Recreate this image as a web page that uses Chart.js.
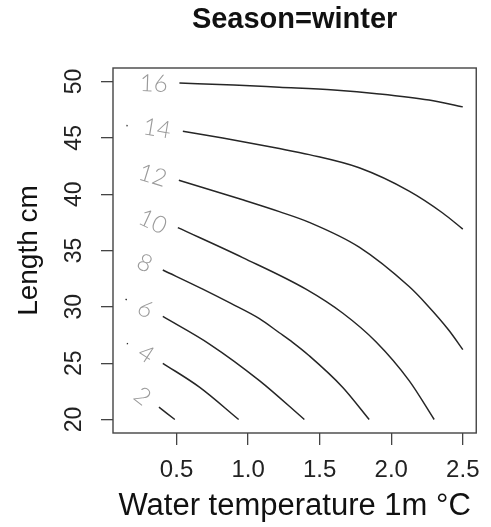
<!DOCTYPE html>
<html>
<head>
<meta charset="utf-8">
<script src="https://cdn.jsdelivr.net/npm/chart.js@4.4.1/dist/chart.umd.min.js"></script>
<style>
  html, body { margin: 0; padding: 0; background: #ffffff; }
  canvas { display: block; }
</style>
</head>
<body>
<canvas id="c" width="491" height="527"></canvas>
<script>
// Text
const chartTitle = 'Season=winter';
const xTitle = 'Water temperature 1m °C';
const yTitle = 'Length cm';

// Axis ticks
const xTicks = [0.5, 1.0, 1.5, 2.0, 2.5];
const yTicks = [20, 25, 30, 35, 40, 45, 50];

// Contour levels and their lines as [temperature, length] pairs;
// a null length breaks the line where the level label sits.
const levels = [2, 4, 6, 8, 10, 12, 14, 16];

const contour2 = [[0.377, 21.1], [0.488, 20.0]];
const contour4 = [[0.153, 26.76], [0.160, 26.70], [0.161, null],
  [0.404, 24.99], [0.66, 22.87], [0.934, 20.0]];
const contour6 = [[0.144, 30.68], [0.152, 30.62], [0.153, null],
  [0.404, 29.15], [0.73, 26.7], [1.079, 23.45], [1.393, 20.0]];
const contour8 = [[0.404, 33.27], [0.683, 31.57], [0.88, 30.3], [1.079, 28.95], [1.218, 27.7],
  [1.311, 26.85], [1.427, 25.66], [1.66, 22.87], [1.846, 20.0]];
const contour10 = [[0.509, 37.03], [0.962, 34.37], [1.404, 31.57], [1.66, 29.45],
  [1.893, 26.9], [2.125, 23.45], [2.3, 20.0]];
const contour12 = [[0.516, 41.24], [0.962, 39.5], [1.218, 38.45], [1.427, 37.5],
  [1.776, 35.3], [2.125, 31.8], [2.241, 30.3], [2.404, 27.9], [2.5, 26.2]];
const contour14 = [[0.150, 46.10], [0.158, 46.08], [0.159, null],
  [0.544, 45.58], [0.823, 44.98], [1.218, 44.05], [1.427, 43.51], [1.776, 42.34],
  [2.125, 40.27], [2.357, 38.35], [2.5, 36.9]];
const contour16 = [[0.52, 49.86], [0.9, 49.7], [1.218, 49.5], [1.6, 49.25],
  [1.916, 48.9], [2.264, 48.35], [2.5, 47.75]];

// Where each level label is written (temperature, length)
const labelX = [0.26, 0.287, 0.282, 0.277, 0.333, 0.333, 0.364, 0.34];
const labelY = [22.05, 25.8, 29.8, 33.87, 37.54, 41.65, 45.81, 49.8];

const contours = [contour2, contour4, contour6, contour8, contour10, contour12, contour14, contour16];

const FONT = "'Liberation Sans', Arial, Helvetica, sans-serif";

const datasets = levels.map((lv, i) => ({
  label: String(lv),
  data: contours[i].map(([x, y]) => ({ x, y })),
  showLine: true,
  borderColor: '#262626',
  borderWidth: 1.5,
  pointRadius: 0,
  pointHoverRadius: 0,
  cubicInterpolationMode: 'monotone',
  fill: false,
  spanGaps: false
}));

// Frame, main title, rotated y tick labels and the contour level labels
const decorations = {
  id: 'decorations',
  afterDraw(chart) {
    const { ctx, chartArea: a, scales } = chart;
    const xs = scales.x, ys = scales.y;
    ctx.save();

    // plot frame
    ctx.strokeStyle = '#444444';
    ctx.lineWidth = 1.4;
    ctx.strokeRect(a.left, a.top, a.right - a.left, a.bottom - a.top);

    // title
    ctx.fillStyle = '#111111';
    ctx.font = 'bold 29px ' + FONT;
    ctx.textAlign = 'center';
    ctx.textBaseline = 'middle';
    ctx.fillText(chartTitle, (a.left + a.right) / 2, 20);

    // y tick labels, reading upwards
    ctx.font = '23px ' + FONT;
    ctx.fillStyle = '#222222';
    ys.ticks.forEach(t => {
      const py = ys.getPixelForValue(t.value);
      ctx.save();
      ctx.translate(a.left - 38, py);
      ctx.rotate(-Math.PI / 2);
      ctx.fillText(String(t.value), 0, 0);
      ctx.restore();
    });

    // contour level labels, turned along the start of each line
    ctx.fillStyle = '#9a9a9a';
    ctx.font = "300 24px Lato, 'Open Sans', " + FONT;
    levels.forEach((lv, i) => {
      const pts = contours[i];
      let s = 0;
      pts.forEach((p, k) => { if (p[1] === null) s = k + 1; });
      const p0 = pts[s], p1 = pts[s + 1];
      const dx = xs.getPixelForValue(p1[0]) - xs.getPixelForValue(p0[0]);
      const dy = ys.getPixelForValue(p1[1]) - ys.getPixelForValue(p0[1]);
      const ang = Math.atan2(dy, dx);
      ctx.save();
      ctx.translate(xs.getPixelForValue(labelX[i]), ys.getPixelForValue(labelY[i]));
      ctx.rotate(ang);
      ctx.fillText(String(lv), 0, 0);
      ctx.restore();
    });

    ctx.restore();
  }
};

new Chart(document.getElementById('c'), {
  type: 'scatter',
  data: { datasets },
  options: {
    responsive: false,
    animation: false,
    devicePixelRatio: 1,
    layout: { padding: { top: 68, right: 14, bottom: 0, left: 0 } },
    plugins: {
      legend: { display: false },
      tooltip: { enabled: false }
    },
    scales: {
      x: {
        type: 'linear',
        min: 0.056,
        max: 2.594,
        afterBuildTicks: s => { s.ticks = xTicks.map(v => ({ value: v })); },
        afterFit: s => { s.height = 94; },
        ticks: {
          autoSkip: false,
          maxRotation: 0,
          padding: 11,
          color: '#222222',
          font: { family: FONT, size: 24 },
          callback: v => Number(v).toFixed(1)
        },
        grid: { drawOnChartArea: false, drawTicks: true, tickLength: 12, color: '#444444', lineWidth: 1.3 },
        border: { display: false },
        title: {
          display: true,
          text: xTitle,
          color: '#111111',
          font: { family: FONT, size: 31 },
          padding: { top: 0, bottom: 2 }
        }
      },
      y: {
        type: 'linear',
        min: 18.8,
        max: 51.2,
        afterBuildTicks: s => { s.ticks = yTicks.map(v => ({ value: v })); },
        afterFit: s => { s.width = 113; },
        ticks: { display: false },
        grid: { drawOnChartArea: false, drawTicks: true, tickLength: 12, color: '#444444', lineWidth: 1.3 },
        border: { display: false },
        title: {
          display: true,
          text: yTitle,
          color: '#111111',
          font: { family: FONT, size: 28 },
          padding: { top: 12, bottom: 0 }
        }
      }
    }
  },
  plugins: [decorations]
});
</script>
</body>
</html>
